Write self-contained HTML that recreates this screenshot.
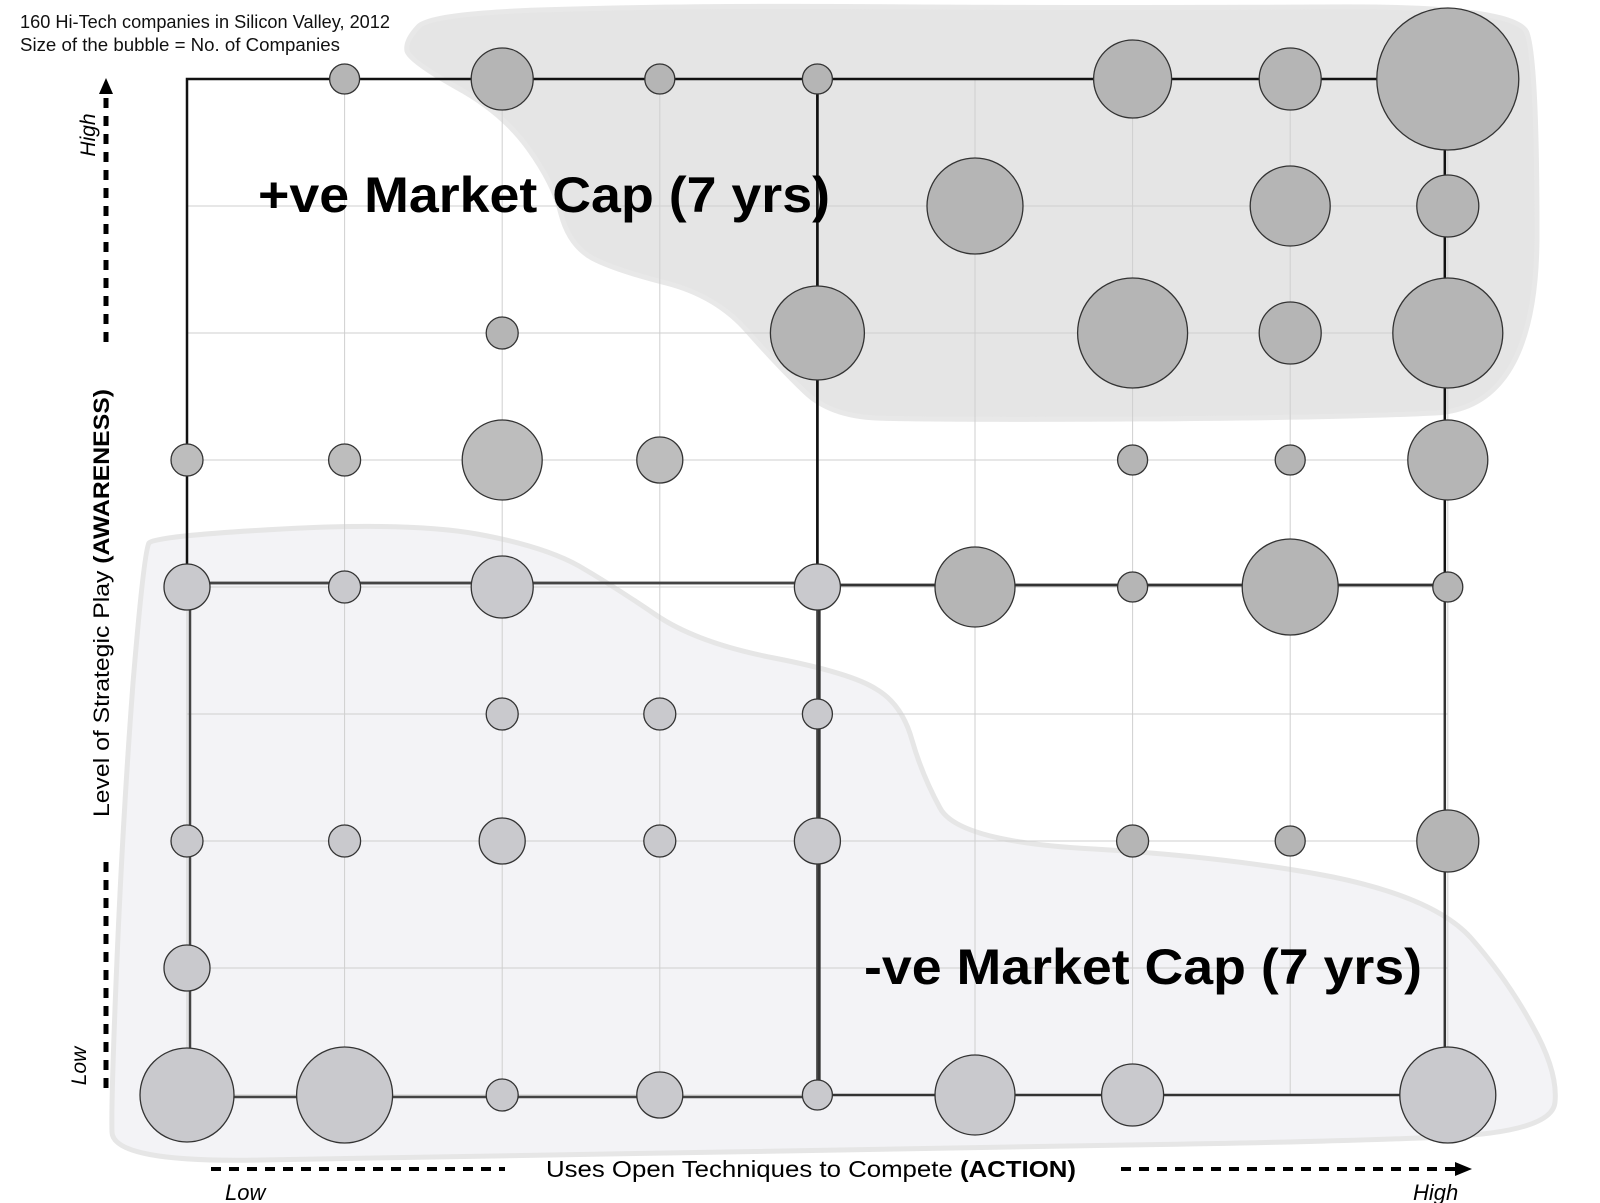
<!DOCTYPE html>
<html><head><meta charset="utf-8"><style>
html,body{margin:0;padding:0;background:#fff;}
svg{display:block;font-family:"Liberation Sans",sans-serif;}
</style></head><body>
<svg id="chart" width="1600" height="1203" viewBox="0 0 1600 1203" style="position:absolute;left:0;top:0">
<g id="bg"></g><g id="grid"></g><g id="boxes"></g><g id="bubbles"></g><g id="labels"></g>
</svg>
<script>
// Data: columns = ACTION level (1..9), rows = AWARENESS level (9 = high top .. 1 = low bottom)
const colLevels = [1,2,3,4,5,6,7,8,9];
const rowLevels = [9,8,7,6,5,4,3,2,1];
const bubbleCol = [2,3,4,5,7,8,9, 6,8,9, 3,5,7,8,9, 1,2,3,4,7,8,9, 1,2,3,5,6,7,8,9, 3,4,5, 1,2,3,4,5,7,8,9, 1, 1,2,3,4,5,6,7,9];
const bubbleRow = [9,9,9,9,9,9,9, 8,8,8, 7,7,7,7,7, 6,6,6,6,6,6,6, 5,5,5,5,5,5,5,5, 4,4,4, 3,3,3,3,3,3,3,3, 2, 1,1,1,1,1,1,1,1];
const bubbleR   = [15,31,15,15,39,31,71, 48,40,31, 16,47,55,31,55, 16,16,40,23,15,15,40, 23,16,31,23,40,15,48,15, 16,16,15, 16,16,23,16,23,16,15,31, 23, 47,48,16,23,15,40,31,48];

const NS='http://www.w3.org/2000/svg';
const X0=187, XS=157.6, Y0=1095, YS=127;
function xScale(c){return X0+(c-1)*XS;}
function yScale(r){return Y0-(r-1)*YS;}
function mk(tag,attrs,parent){const e=document.createElementNS(NS,tag);for(const k in attrs)e.setAttribute(k,attrs[k]);parent.appendChild(e);return e;}
const bg=document.getElementById('bg'),grid=document.getElementById('grid'),boxes=document.getElementById('boxes'),bub=document.getElementById('bubbles');

function smooth(a,sx,sy){const p=a.map(q=>[q[0]*sx,q[1]*sy]);const n=p.length;let d='M'+((p[0][0]+p[1][0])/2).toFixed(0)+','+((p[0][1]+p[1][1])/2).toFixed(0);
for(let i=1;i<=n;i++){const c=p[i%n],nx=p[(i+1)%n];d+=' Q'+c[0].toFixed(0)+','+c[1].toFixed(0)+' '+((c[0]+nx[0])/2).toFixed(0)+','+((c[1]+nx[1])/2).toFixed(0);}return d+'Z';}
const topBlob=[[395,40],[420,12],[700,5],[1100,8],[1480,5],[1500,60],[1500,400],[1300,410],[900,412],[810,408],[760,360],[700,290],[600,265],[555,240],[540,180],[490,110],[400,60]];
const botBlob=[[150,525],[400,512],[530,535],[600,575],[680,630],[830,660],[880,690],[900,760],[935,825],[1200,840],[1400,880],[1470,960],[1520,1050],[1515,1110],[1300,1120],[900,1125],[400,1135],[110,1140],[108,1080],[120,800],[140,540]];
let e=mk('path',{d:smooth(topBlob,1.025,1.02),fill:'#e5e5e5',stroke:'#e8e8e8','stroke-width':5,'stroke-linejoin':'round'},bg);


e=mk('path',{d:smooth(botBlob,1.025,1.02),fill:'#f3f3f6',stroke:'#e6e6e6','stroke-width':5,'stroke-linejoin':'round'},bg);



colLevels.forEach(c=>{const l=mk('line',{x1:xScale(c),x2:xScale(c),y1:yScale(9),y2:yScale(1),stroke:'#cfcfcf','stroke-width':1},grid);

});
rowLevels.forEach(r=>{const l=mk('line',{x1:xScale(1),x2:xScale(9),y1:yScale(r),y2:yScale(r),stroke:'#cfcfcf','stroke-width':1},grid);

});

const mid=583;
const q=[['top-left-quadrant',xScale(1),yScale(9),xScale(5),mid,'#111',2.5],['top-right-quadrant',xScale(5),yScale(9),xScale(9)-3,mid+2,'#111',2.5],['bottom-left-quadrant',xScale(1)+3,mid,xScale(5),yScale(1)+2,'#444',2.5],['bottom-right-quadrant',xScale(5)+2,mid+2,xScale(9)-3,yScale(1),'#333',2.5]];
q.forEach(b=>{const r=mk('rect',{x:b[1],y:b[2],width:b[3]-b[1],height:b[4]-b[2],fill:'none',stroke:b[5],'stroke-width':b[6]},boxes);

});

bubbleCol.forEach((c,i)=>{const r=bubbleRow[i];
const light=(c<=5&&r<=5)||r<=2||(c==9&&r==1);
const fill=light?'#c9c9cd':(r==6&&c<=4?'#bdbdbd':'#b5b5b5');
const ci=mk('circle',{cx:xScale(c),cy:yScale(r),r:bubbleR[i],fill:fill,stroke:'#333','stroke-width':1.3},bub);

});
</script>
<svg width="1600" height="1203" style="position:absolute;left:0;top:0">
<text x="20" y="28" font-size="18" fill="#111" textLength="370" lengthAdjust="spacingAndGlyphs">160 Hi-Tech companies in Silicon Valley, 2012</text>
<text x="20" y="51" font-size="18" fill="#111" textLength="320" lengthAdjust="spacingAndGlyphs">Size of the bubble = No. of Companies</text>
<text x="258" y="212" font-size="50" font-weight="bold" fill="#000" textLength="572" lengthAdjust="spacingAndGlyphs">+ve Market Cap (7 yrs)</text>
<text x="864" y="984" font-size="50" font-weight="bold" fill="#000" textLength="558" lengthAdjust="spacingAndGlyphs">-ve Market Cap (7 yrs)</text>
<line x1="106" y1="342" x2="106" y2="92" stroke="#000" stroke-width="5" stroke-dasharray="10,8"/>
<path d="M106,78 L113,94 L99,94 Z" fill="#000"/>
<line x1="106" y1="862" x2="106" y2="1088" stroke="#000" stroke-width="5" stroke-dasharray="10,8"/>
<text transform="translate(95,135) rotate(-90)" font-size="21" font-style="italic" text-anchor="middle">High</text>
<text transform="translate(86,1066) rotate(-90)" font-size="21" font-style="italic" text-anchor="middle">Low</text>
<text transform="translate(109,603) rotate(-90)" font-size="22" text-anchor="middle" textLength="428" lengthAdjust="spacingAndGlyphs">Level of Strategic Play <tspan font-weight="bold">(AWARENESS)</tspan></text>
<line x1="211" y1="1169" x2="505" y2="1169" stroke="#000" stroke-width="4" stroke-dasharray="10,8"/>
<line x1="1121" y1="1169" x2="1456" y2="1169" stroke="#000" stroke-width="4" stroke-dasharray="10,8"/>
<path d="M1472,1169 L1455,1162 L1455,1176 Z" fill="#000"/>
<text x="811" y="1177" font-size="23" text-anchor="middle" textLength="530" lengthAdjust="spacingAndGlyphs">Uses Open Techniques to Compete <tspan font-weight="bold">(ACTION)</tspan></text>
<text x="225" y="1200" font-size="22" font-style="italic">Low</text>
<text x="1413" y="1200" font-size="22" font-style="italic">High</text>
</svg>
</body></html>
